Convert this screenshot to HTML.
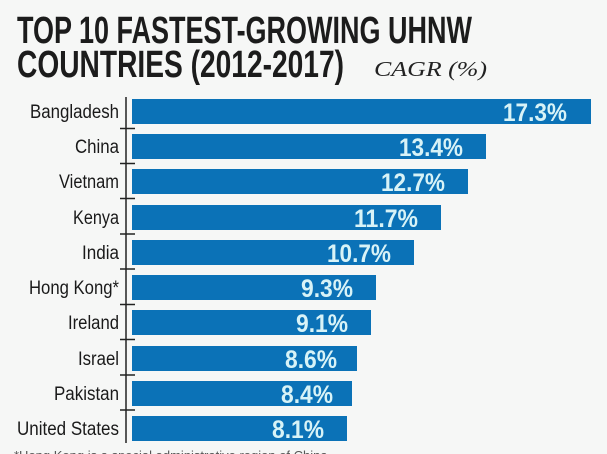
<!DOCTYPE html>
<html><head><meta charset="utf-8"><style>
html,body{margin:0;padding:0;background:#f6f7f6;}
svg{display:block}
.t{font-family:"Liberation Sans Narrow","Liberation Sans",sans-serif;font-weight:bold;fill:#1c1c1c}
.l{font-family:"Liberation Sans",sans-serif;font-size:19px;fill:#1a1a1a;text-anchor:end}
.v{font-family:"Liberation Sans",sans-serif;font-weight:bold;font-size:25px;fill:#d8f3f7;text-anchor:end}
</style></head><body>
<svg width="607" height="454" viewBox="0 0 607 454" xmlns="http://www.w3.org/2000/svg">
<rect width="607" height="454" fill="#f6f7f6"/>
<text class="t" x="17" y="43" font-size="38" textLength="455" lengthAdjust="spacingAndGlyphs">TOP 10 FASTEST-GROWING UHNW</text>
<text class="t" x="17" y="77" font-size="38" textLength="327" lengthAdjust="spacingAndGlyphs">COUNTRIES (2012-2017)</text>
<text x="374" y="76" font-family="Liberation Serif,serif" font-style="italic" font-size="21" fill="#222" textLength="113" lengthAdjust="spacingAndGlyphs">CAGR (%)</text>
<line x1="126" y1="97" x2="126" y2="443" stroke="#222" stroke-width="1.5"/>
<g stroke="#222" stroke-width="1.5">
<line x1="120" y1="128.5" x2="135" y2="128.5"/><line x1="120" y1="163.5" x2="135" y2="163.5"/><line x1="120" y1="198.5" x2="135" y2="198.5"/><line x1="120" y1="234" x2="135" y2="234"/><line x1="120" y1="269" x2="135" y2="269"/><line x1="120" y1="304.5" x2="135" y2="304.5"/><line x1="120" y1="339.5" x2="135" y2="339.5"/><line x1="120" y1="375" x2="135" y2="375"/><line x1="120" y1="410" x2="135" y2="410"/>
</g>
<g fill="#0b72b7">
<rect x="132" y="99" width="459" height="25"/>
<rect x="132" y="134" width="354" height="25"/>
<rect x="132" y="169" width="336" height="25"/>
<rect x="132" y="205" width="309" height="25"/>
<rect x="132" y="240" width="282" height="25"/>
<rect x="132" y="275" width="244" height="25"/>
<rect x="132" y="310" width="239" height="25"/>
<rect x="132" y="346" width="225" height="25"/>
<rect x="132" y="381" width="220" height="25"/>
<rect x="132" y="416" width="215" height="25"/>
</g>
<g class="l">
<text x="119" y="118" textLength="89" lengthAdjust="spacingAndGlyphs">Bangladesh</text>
<text x="119" y="153" textLength="44" lengthAdjust="spacingAndGlyphs">China</text>
<text x="119" y="188" textLength="60" lengthAdjust="spacingAndGlyphs">Vietnam</text>
<text x="119" y="224" textLength="46" lengthAdjust="spacingAndGlyphs">Kenya</text>
<text x="119" y="259" textLength="37" lengthAdjust="spacingAndGlyphs">India</text>
<text x="119" y="294" textLength="90" lengthAdjust="spacingAndGlyphs">Hong Kong*</text>
<text x="119" y="329" textLength="51" lengthAdjust="spacingAndGlyphs">Ireland</text>
<text x="119" y="365" textLength="41" lengthAdjust="spacingAndGlyphs">Israel</text>
<text x="119" y="400" textLength="65" lengthAdjust="spacingAndGlyphs">Pakistan</text>
<text x="119" y="435" textLength="102" lengthAdjust="spacingAndGlyphs">United States</text>
</g>
<g class="v">
<text x="567" y="121" textLength="64" lengthAdjust="spacingAndGlyphs">17.3%</text>
<text x="463" y="156" textLength="64" lengthAdjust="spacingAndGlyphs">13.4%</text>
<text x="445" y="191" textLength="64" lengthAdjust="spacingAndGlyphs">12.7%</text>
<text x="418" y="227" textLength="64" lengthAdjust="spacingAndGlyphs">11.7%</text>
<text x="391" y="262" textLength="64" lengthAdjust="spacingAndGlyphs">10.7%</text>
<text x="353" y="297" textLength="52" lengthAdjust="spacingAndGlyphs">9.3%</text>
<text x="348" y="332" textLength="52" lengthAdjust="spacingAndGlyphs">9.1%</text>
<text x="337" y="368" textLength="52" lengthAdjust="spacingAndGlyphs">8.6%</text>
<text x="333" y="403" textLength="52" lengthAdjust="spacingAndGlyphs">8.4%</text>
<text x="324" y="438" textLength="52" lengthAdjust="spacingAndGlyphs">8.1%</text>
</g>
<text x="14" y="460" font-family="Liberation Sans,sans-serif" font-size="13" fill="#555">*Hong Kong is a special administrative region of China</text>
</svg>
</body></html>
